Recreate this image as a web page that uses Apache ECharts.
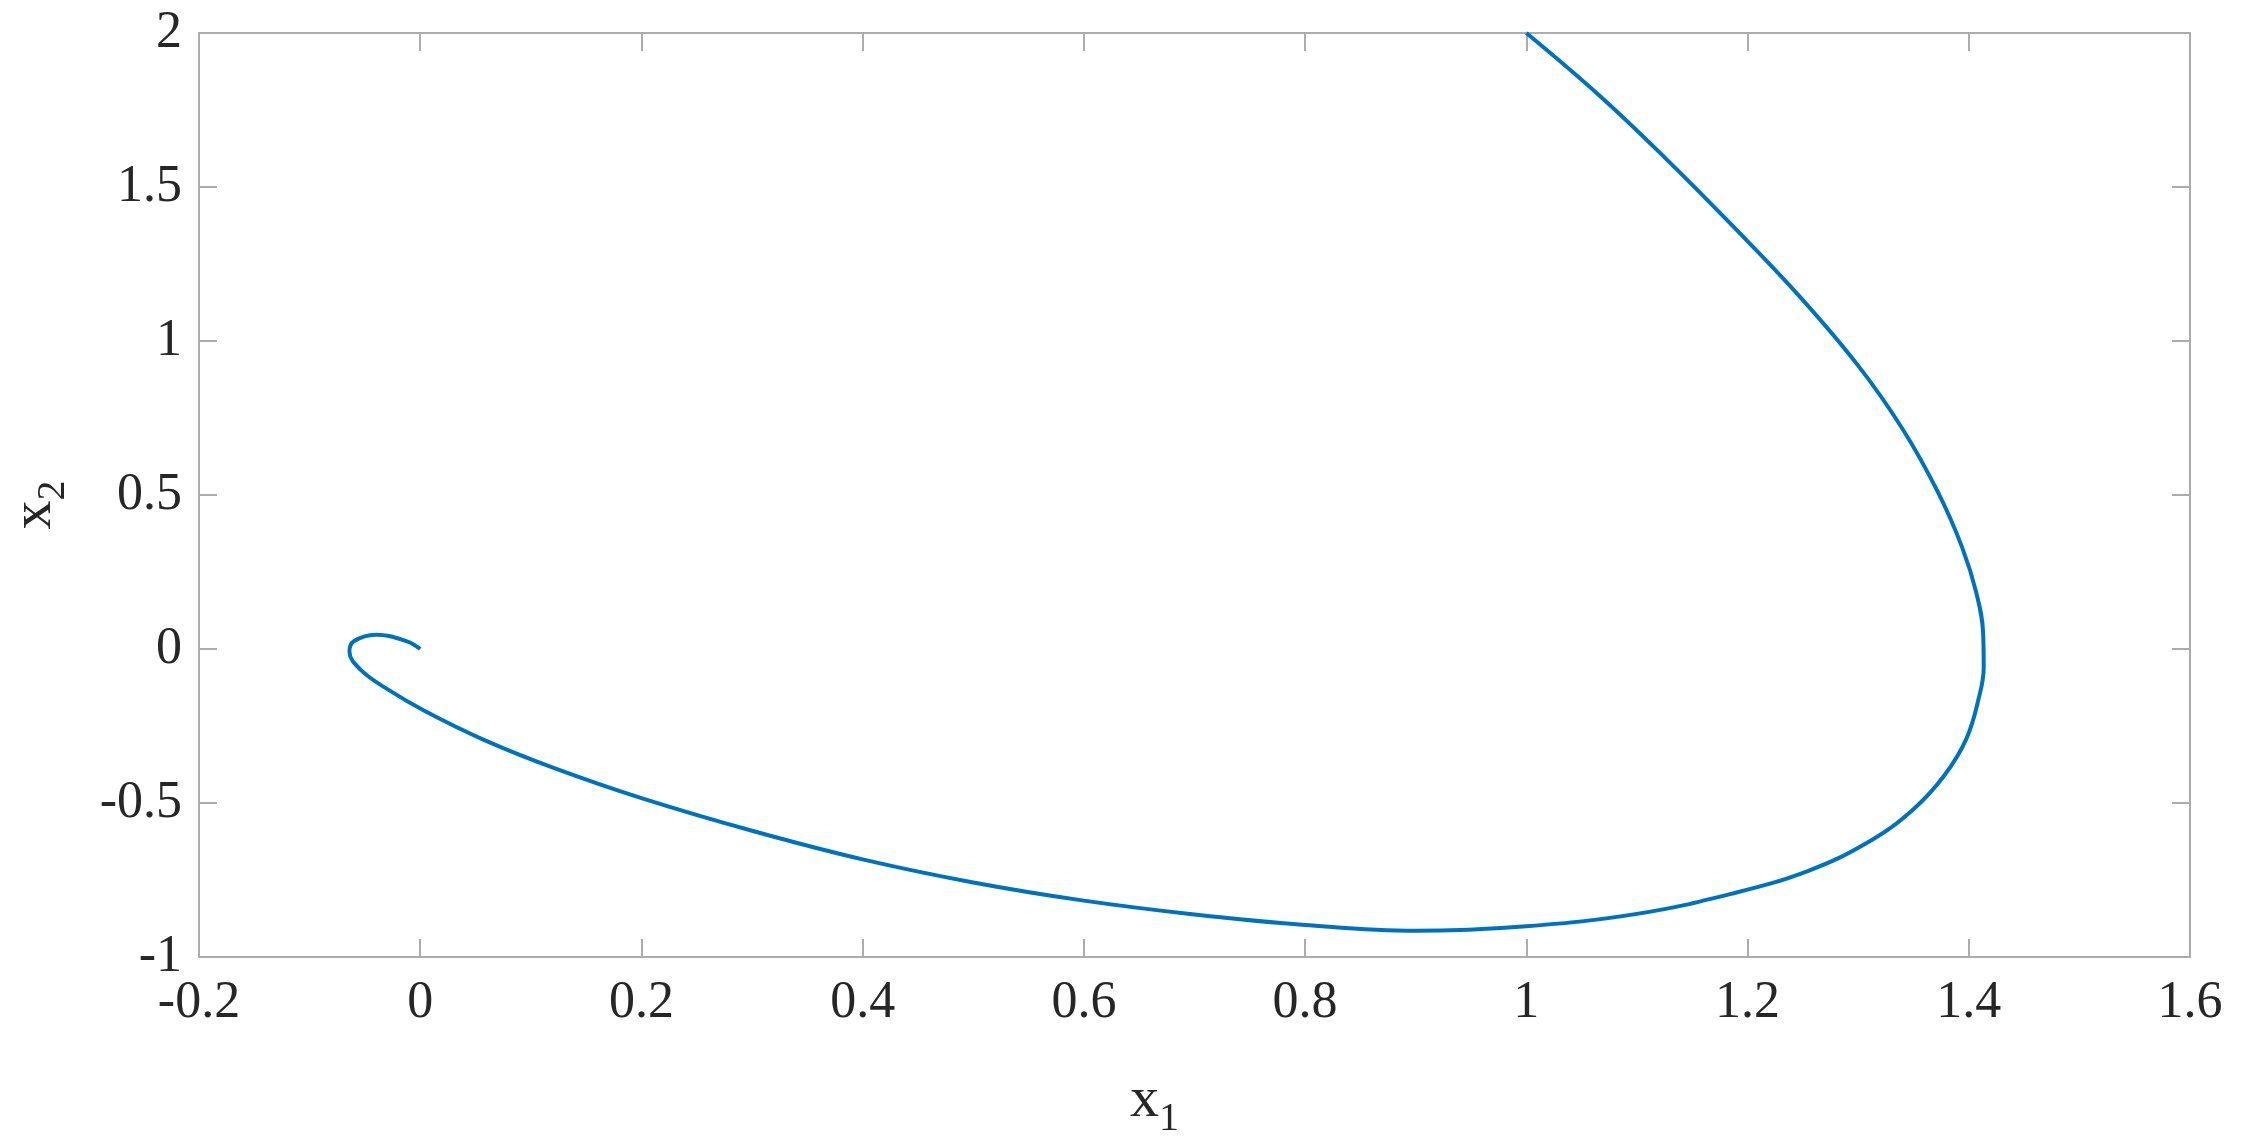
<!DOCTYPE html>
<html lang="en" style="height: 100%">
<head>
  <meta charset="utf-8">
</head>
<body style="height: 100%; margin: 0; background: #fff">
  <div id="container" style="height: 100%"></div>

  <script type="text/javascript" src="https://fastly.jsdelivr.net/npm/echarts@6/dist/echarts.min.js"></script>

  <script type="text/javascript">
    var dom = document.getElementById('container');
    var myChart = echarts.init(dom, null, { renderer: 'canvas' });
    var option;

    // trajectory, in order along the curve
    const x1Values = [
      1.000, 1.067, 1.127, 1.187, 1.247, 1.300, 1.340, 1.372, 1.394, 1.407,
      1.413, 1.4135, 1.409, 1.398, 1.378, 1.350, 1.310, 1.255, 1.185, 1.100,
      1.000, 0.900, 0.800, 0.700, 0.600, 0.500, 0.400, 0.300, 0.200, 0.120,
      0.057, 0.005, -0.029, -0.054, -0.064, -0.060, -0.040, -0.012, 0.000
    ];
    const x2Values = [
      2.000, 1.794, 1.589, 1.372, 1.145, 0.920, 0.715, 0.510, 0.330, 0.180,
      0.050, -0.060, -0.160, -0.290, -0.410, -0.520, -0.625, -0.720, -0.795, -0.860,
      -0.900, -0.915, -0.896, -0.862, -0.817, -0.758, -0.683, -0.590, -0.484, -0.385,
      -0.294, -0.203, -0.132, -0.067, -0.008, 0.025, 0.046, 0.025, 0.000
    ];

    const xTicks = { min: -0.2, max: 1.6, interval: 0.2 };
    const yTicks = { min: -1, max: 2, interval: 0.5 };

    const axisGray = '#acacac';
    const textColor = '#262626';
    const fontFamily = '"Liberation Serif", "Times New Roman", serif';

    const points = x1Values.map(function (v, i) { return [v, x2Values[i]]; });

    function boxAxis(range, extra) {
      return Object.assign({
        type: 'value',
        min: range.min,
        max: range.max,
        interval: range.interval,
        splitLine: { show: false },
        axisLine: { show: true, onZero: false, lineStyle: { color: axisGray, width: 2 } },
        axisTick: { show: true, inside: true, length: 18, lineStyle: { color: axisGray, width: 2 } },
        axisLabel: { show: false }
      }, extra);
    }

    const labelStyle = {
      show: true,
      color: textColor,
      fontFamily: fontFamily,
      fontSize: 52
    };

    const nameRich = {
      a: { fontFamily: fontFamily, fontSize: 58, color: textColor, lineHeight: 58, verticalAlign: 'top' },
      b: { fontFamily: fontFamily, fontSize: 40, color: textColor, lineHeight: 40, padding: [36, 0, 0, 0] }
    };

    option = {
      animation: false,
      backgroundColor: '#fff',
      grid: { left: 199, right: 51, top: 33, bottom: 179, outerBoundsMode: 'none' },
      xAxis: [
        boxAxis(xTicks, {
          position: 'bottom',
          axisLabel: Object.assign({ margin: 20 }, labelStyle),
          name: '{a|x}{b|1}',
          nameLocation: 'middle',
          nameGap: 115,
          nameTextStyle: { rich: nameRich, padding: [0, 80, 0, 0] }
        }),
        boxAxis(xTicks, { position: 'top' })
      ],
      yAxis: [
        boxAxis(yTicks, {
          position: 'left',
          axisLabel: Object.assign({ margin: 17 }, labelStyle),
          name: '{a|x}{b|2}',
          nameLocation: 'middle',
          nameGap: 135,
          nameTextStyle: { rich: nameRich, padding: [0, 20, 0, 0] }
        }),
        boxAxis(yTicks, { position: 'right' })
      ],
      series: [
        {
          type: 'line',
          data: points,
          showSymbol: false,
          smooth: 0.4,
          lineStyle: { color: '#0072BD', width: 4 },
          itemStyle: { color: '#0072BD' }
        }
      ]
    };

    if (option && typeof option === 'object') {
      myChart.setOption(option);
    }

    window.addEventListener('resize', myChart.resize);
  </script>
</body>
</html>
